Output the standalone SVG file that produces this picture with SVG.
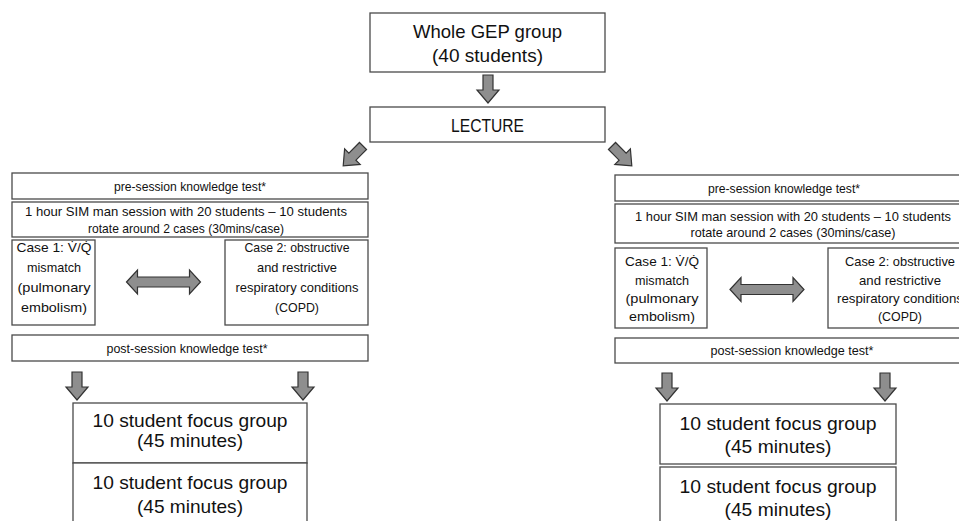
<svg xmlns="http://www.w3.org/2000/svg" width="959" height="521" viewBox="0 0 959 521">
<style>
.box{fill:#fff;stroke:#4a4a4a;stroke-width:1.3}
.arr{fill:#8e8e8e;stroke:#333;stroke-width:1.2;stroke-linejoin:miter}
text{font-family:"Liberation Sans",Arial,sans-serif;fill:#111;text-anchor:middle}
.big{font-size:19px}
.sm{font-size:13.5px}
</style>
<defs>
<path id="dn" d="M-5,0 H5 V15 H11 L0,28 L-11,15 H-5 Z"/>
<path id="dbl" d="M-37,0 L-26,-12 V-5 H26 V-12 L37,0 L26,12 V5 H-26 V12 Z"/>
</defs>
<rect width="959" height="521" fill="#fff"/>

<g id="whole">
<rect class="box" x="370" y="13" width="235" height="59"/>
<text class="big" x="487.5" y="38" textLength="149" lengthAdjust="spacingAndGlyphs">Whole GEP group</text>
<text class="big" x="487.5" y="62" textLength="111" lengthAdjust="spacingAndGlyphs">(40 students)</text>
</g>
<g id="lecture">
<rect class="box" x="370" y="107" width="235" height="35"/>
<text class="big" x="487.5" y="132" textLength="73" lengthAdjust="spacingAndGlyphs">LECTURE</text>
</g>

<!-- left column -->
<g id="pre-left">
<rect class="box" x="12" y="173" width="356" height="26"/>
<text class="sm" x="190" y="191" textLength="152" lengthAdjust="spacingAndGlyphs">pre-session knowledge test*</text>
</g>
<g id="sim-left">
<rect class="box" x="12" y="202" width="356" height="35"/>
<text class="sm" x="186" y="216" textLength="322" lengthAdjust="spacingAndGlyphs">1 hour SIM man session with 20 students – 10 students</text>
<text class="sm" x="186" y="233" textLength="196" lengthAdjust="spacingAndGlyphs">rotate around 2 cases (30mins/case)</text>
</g>
<g id="case1-left">
<rect class="box" x="12" y="240" width="83" height="85"/>
<text class="sm" x="54" y="252" textLength="75" lengthAdjust="spacingAndGlyphs">Case 1: V̇/Q̇</text>
<text class="sm" x="54" y="272" textLength="54" lengthAdjust="spacingAndGlyphs">mismatch</text>
<text class="sm" x="54" y="292" textLength="73" lengthAdjust="spacingAndGlyphs">(pulmonary</text>
<text class="sm" x="54" y="312" textLength="66" lengthAdjust="spacingAndGlyphs">embolism)</text>
</g>
<g id="case2-left">
<rect class="box" x="225" y="240" width="143" height="85"/>
<text class="sm" x="297" y="252" textLength="105" lengthAdjust="spacingAndGlyphs">Case 2: obstructive</text>
<text class="sm" x="297" y="272" textLength="80" lengthAdjust="spacingAndGlyphs">and restrictive</text>
<text class="sm" x="297" y="292" textLength="123" lengthAdjust="spacingAndGlyphs">respiratory conditions</text>
<text class="sm" x="297" y="312" textLength="44" lengthAdjust="spacingAndGlyphs">(COPD)</text>
</g>
<g id="post-left">
<rect class="box" x="12" y="335" width="356" height="26"/>
<text class="sm" x="187" y="353" textLength="161" lengthAdjust="spacingAndGlyphs">post-session knowledge test*</text>
</g>
<g id="focus1-left">
<rect class="box" x="73" y="403" width="234" height="60"/>
<text class="big" x="190" y="427" textLength="195" lengthAdjust="spacingAndGlyphs">10 student focus group</text>
<text class="big" x="190" y="447" textLength="106" lengthAdjust="spacingAndGlyphs">(45 minutes)</text>
</g>
<g id="focus2-left">
<rect class="box" x="73" y="463" width="234" height="70"/>
<text class="big" x="190" y="489" textLength="195" lengthAdjust="spacingAndGlyphs">10 student focus group</text>
<text class="big" x="190" y="513" textLength="106" lengthAdjust="spacingAndGlyphs">(45 minutes)</text>
</g>

<!-- right column -->
<g id="pre-right">
<rect class="box" x="615" y="175" width="356" height="26"/>
<text class="sm" x="784" y="193" textLength="152" lengthAdjust="spacingAndGlyphs">pre-session knowledge test*</text>
</g>
<g id="sim-right">
<rect class="box" x="615" y="204" width="356" height="39"/>
<text class="sm" x="793" y="221" textLength="316" lengthAdjust="spacingAndGlyphs">1 hour SIM man session with 20 students – 10 students</text>
<text class="sm" x="793" y="237" textLength="205" lengthAdjust="spacingAndGlyphs">rotate around 2 cases (30mins/case)</text>
</g>
<g id="case1-right">
<rect class="box" x="615" y="248" width="92" height="80"/>
<text class="sm" x="662" y="266" textLength="74" lengthAdjust="spacingAndGlyphs">Case 1: V̇/Q̇</text>
<text class="sm" x="662" y="285" textLength="54" lengthAdjust="spacingAndGlyphs">mismatch</text>
<text class="sm" x="662" y="303" textLength="73" lengthAdjust="spacingAndGlyphs">(pulmonary</text>
<text class="sm" x="662" y="321" textLength="66" lengthAdjust="spacingAndGlyphs">embolism)</text>
</g>
<g id="case2-right">
<rect class="box" x="828" y="248" width="145" height="80"/>
<text class="sm" x="900" y="266" textLength="110" lengthAdjust="spacingAndGlyphs">Case 2: obstructive</text>
<text class="sm" x="900" y="285" textLength="82" lengthAdjust="spacingAndGlyphs">and restrictive</text>
<text class="sm" x="900" y="303" textLength="126" lengthAdjust="spacingAndGlyphs">respiratory conditions</text>
<text class="sm" x="900" y="321" textLength="44" lengthAdjust="spacingAndGlyphs">(COPD)</text>
</g>
<g id="post-right">
<rect class="box" x="615" y="338" width="356" height="25"/>
<text class="sm" x="792" y="355" textLength="163" lengthAdjust="spacingAndGlyphs">post-session knowledge test*</text>
</g>
<g id="focus1-right">
<rect class="box" x="660" y="404" width="236" height="60"/>
<text class="big" x="778" y="430" textLength="197" lengthAdjust="spacingAndGlyphs">10 student focus group</text>
<text class="big" x="778" y="453" textLength="107" lengthAdjust="spacingAndGlyphs">(45 minutes)</text>
</g>
<g id="focus2-right">
<rect class="box" x="660" y="467" width="236" height="70"/>
<text class="big" x="778" y="493" textLength="197" lengthAdjust="spacingAndGlyphs">10 student focus group</text>
<text class="big" x="778" y="516" textLength="107" lengthAdjust="spacingAndGlyphs">(45 minutes)</text>
</g>

<g id="connectors">
<use href="#dn" class="arr" transform="translate(488,75)"/>
<use href="#dn" class="arr" transform="translate(363,146) rotate(45)"/>
<use href="#dn" class="arr" transform="translate(612,146) rotate(-45)"/>
<use href="#dbl" class="arr" transform="translate(163.5,282)"/>
<use href="#dbl" class="arr" transform="translate(767,289.5)"/>
<use href="#dn" class="arr" transform="translate(77,372)"/>
<use href="#dn" class="arr" transform="translate(303,372)"/>
<use href="#dn" class="arr" transform="translate(667,373)"/>
<use href="#dn" class="arr" transform="translate(885,373)"/>
</g>
</svg>
